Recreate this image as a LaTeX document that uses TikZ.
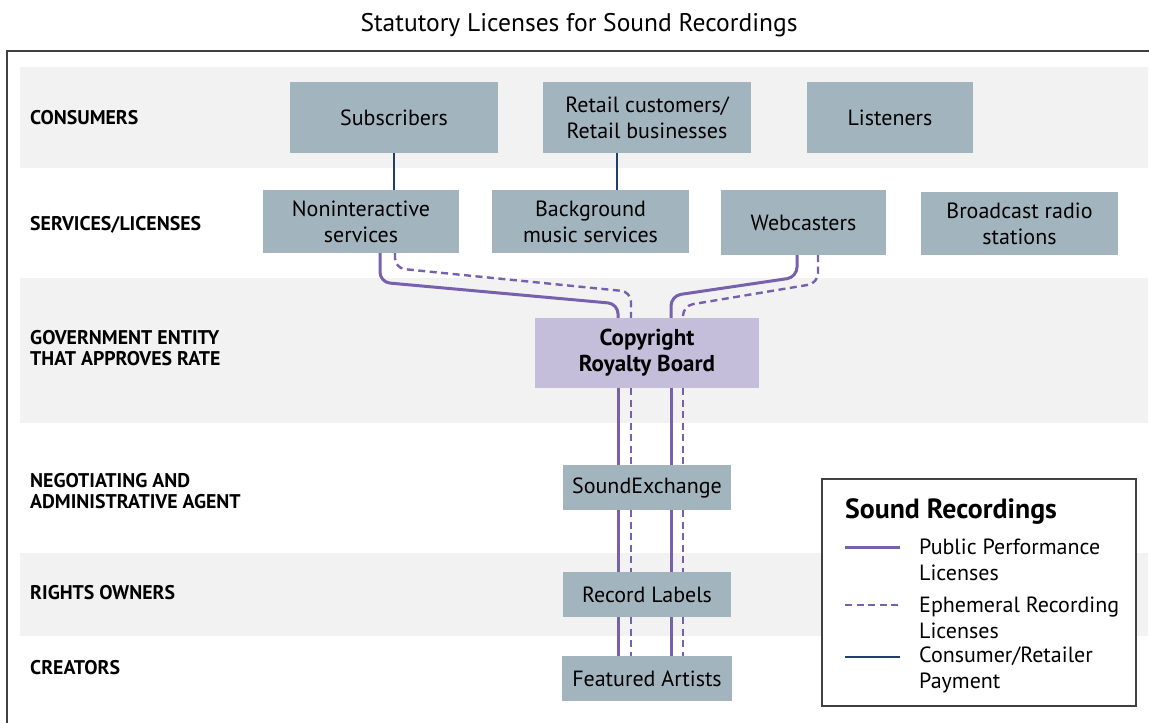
\documentclass[tikz,border=0pt]{standalone}
\usepackage{fontspec}
\setmainfont{PT Sans}
\usetikzlibrary{positioning}
\definecolor{bandgray}{HTML}{F2F2F2}
\definecolor{boxblue}{HTML}{A2B5BF}
\definecolor{crblilac}{HTML}{C5BEDB}
\definecolor{perfpurple}{HTML}{7761AD}
\definecolor{paynavy}{HTML}{1F3E69}
\tikzset{
box/.style={rectangle, fill=boxblue, inner sep=0pt, align=center, font=\fontsize{22}{26}\selectfont}, % grey-blue boxes
rowlabel/.style={anchor=west, inner sep=0pt, align=left, font=\fontsize{19.8}{21}\selectfont\bfseries}, % captions at the left
perf/.style={draw=perfpurple, line width=3pt, rounded corners=10pt}, % public performance licenses
ephem/.style={perf, line width=2.4pt, dash pattern=on 7pt off 4.5pt}, % ephemeral recording licenses
pay/.style={draw=paynavy, line width=2.6pt}, % consumer/retailer payment
legtext/.style={anchor=west, inner sep=0pt, align=left, font=\fontsize{22}{26}\selectfont}, % legend entries
}

\begin{document}
\begin{tikzpicture}[x=1pt, y=-1pt]
        \useasboundingbox (0,0) rectangle (1149,723);
        % bands and frame
        \fill[bandgray] (20,67) rectangle (1148,168);
        \fill[bandgray] (20,278) rectangle (1148,423);
        \fill[bandgray] (20,553) rectangle (1148,636);
        \draw[black!75, line width=1.5pt] (7,51) rectangle (1170,740);

        \node[font=\fontsize{25.5}{30}\selectfont] (title) at (579,25) {Statutory Licenses for Sound Recordings};

        \node[rowlabel] (consumers) at (30,118) {CONSUMERS};
        \node[rowlabel] (services) at (30,225) {SERVICES/LICENSES};
        \node[rowlabel] (government) at (30,348) {GOVERNMENT ENTITY\\THAT APPROVES RATE};
        \node[rowlabel] (agent) at (30,491) {NEGOTIATING AND\\ADMINISTRATIVE AGENT};
        \node[rowlabel] (owners) at (30,593) {RIGHTS OWNERS};
        \node[rowlabel] (creators) at (30,668) {CREATORS};

        \node[box, minimum width=208pt, minimum height=71pt] (subs) at (394,117.5) {Subscribers};
        \node[box, minimum width=208pt, minimum height=71pt] (retail) at (647,117.5) {Retail customers/\\Retail businesses};
        \node[box, minimum width=166pt, minimum height=71pt] (listen) at (890,117.5) {Listeners};

        \node[box, minimum width=196pt, minimum height=63pt] (nonint) at (361,221.5) {Noninteractive\\services};
        \node[box, minimum width=197pt, minimum height=63pt] (bgmusic) at (590.5,221.5) {Background\\music services};
        \node[box, minimum width=165pt, minimum height=65pt] (webcast) at (803.5,222.5) {Webcasters};
        \node[box, minimum width=197pt, minimum height=63pt] (radio) at (1019.5,223.5) {Broadcast radio\\stations};

        \node[box, fill=crblilac, font=\fontsize{23}{26}\selectfont\bfseries, minimum width=224pt, minimum height=70pt] (crb) at (647,353) {Copyright\\Royalty Board};
        \node[box, minimum width=168pt, minimum height=45pt] (sx) at (647,487.5) {SoundExchange};
        \node[box, minimum width=168pt, minimum height=45pt] (labels) at (647,594.5) {Record Labels};
        \node[box, minimum width=170pt, minimum height=45pt] (artists) at (647,678.5) {Featured Artists};

        % payments
        \draw[pay] (subs.south) -- (subs.south |- nonint.north);
        \draw[pay] ([xshift=-30pt]retail.south) -- ([xshift=-30pt]retail.south |- bgmusic.north);

        % licenses into the board
        \draw[perf] ([xshift=19pt]nonint.south) -- ++(0,29) -- ([xshift=-29pt,yshift=14pt]crb.north) -- ([xshift=-29pt]crb.north);
        \draw[ephem] ([xshift=34pt]nonint.south) -- ++(0,15) -- ([xshift=-16pt,yshift=26pt]crb.north) -- ([xshift=-16pt]crb.north);
        \draw[perf] ([xshift=-6.5pt]webcast.south) -- ++(0,22) -- ([xshift=24pt,yshift=22pt]crb.north) -- ([xshift=24pt]crb.north);
        \draw[ephem] ([xshift=14.5pt]webcast.south) -- ++(0,28) -- ([xshift=36pt,yshift=12pt]crb.north) -- ([xshift=36pt]crb.north);

        % board down to the creators
        \foreach \dx/\kind in {-29/perf, -16/ephem, 24/perf, 36/ephem} {
          \draw[\kind] ([xshift=\dx pt]crb.south) -- ([xshift=\dx pt]sx.north);
          \draw[\kind] ([xshift=\dx pt]sx.south) -- ([xshift=\dx pt]labels.north);
          \draw[\kind] ([xshift=\dx pt]labels.south) -- ([xshift=\dx pt]artists.north);
        }

        % legend
        \node[draw=black!75, line width=1.2pt, fill=white, minimum width=314pt, minimum height=227pt] (legend) at (979,592.5) {};
        \node[anchor=west, inner sep=0pt, font=\fontsize{27.8}{30}\selectfont\bfseries] (legtitle) at (845,512) {Sound Recordings};
        \node[legtext] (legperf) at (919,559.5) {Public Performance\\Licenses};
        \node[legtext] (legephem) at (919,617.5) {Ephemeral Recording\\Licenses};
        \node[legtext] (legpay) at (919,670) {Consumer/Retailer\\Payment};
        \coordinate (keyperf) at (845,547);
        \coordinate (keyephem) at (845,605);
        \coordinate (keypay) at (845,657);
        \draw[perf] (keyperf) -- ++(55,0);
        \draw[ephem, line width=2pt] (keyephem) -- ++(55,0);
        \draw[pay] (keypay) -- ++(55,0);
      \end{tikzpicture}
\end{document}
